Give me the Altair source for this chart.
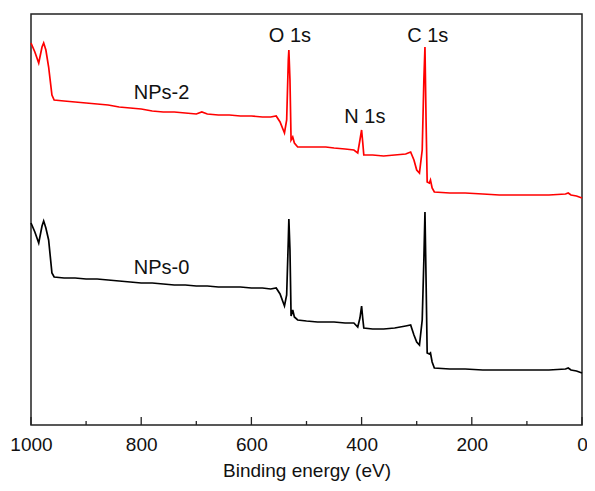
import altair as alt
import pandas as pd

# Binding energy grid (eV)
energy_ev = [1000, 993, 986, 980, 977, 973, 968, 962, 958, 940, 920, 900, 880, 860,
             840, 820, 800, 780, 760, 740, 720, 700, 690, 680, 660, 640, 620, 600,
             580, 565, 555, 548, 540, 536, 533, 532, 530, 528, 525, 522, 516, 500,
             480, 465, 450, 430, 414, 407, 403, 400, 398, 396, 380, 360, 340, 320,
             311, 305, 300, 295, 290, 287, 285, 283, 281, 277, 275, 272, 268, 240,
             212, 180, 150, 120, 90, 60, 30, 25, 20, 10, 0]

# Intensities (arbitrary units, offset stacked)
nps2_intensity = [382, 373, 362, 378, 382, 375, 358, 330, 325, 324, 323, 322, 321, 320,
                  318, 317, 316, 314, 313, 313, 312, 311, 313, 311, 310, 310, 309, 309,
                  308, 308, 309, 303, 292, 305, 365, 375, 345, 285, 288, 282, 278, 278,
                  278, 278, 277, 276, 275, 272, 285, 295, 283, 270, 270, 269, 270, 271,
                  273, 265, 255, 252, 275, 345, 378, 305, 243, 242, 245, 237, 233, 232,
                  232, 231, 230, 230, 230, 230, 231, 232, 230, 229, 227]

nps0_intensity = [202, 193, 182, 199, 204, 197, 185, 152, 148, 147, 147, 146, 146, 145,
                  144, 143, 142, 142, 141, 140, 140, 139, 139, 139, 138, 138, 138, 137,
                  137, 136, 137, 131, 119, 130, 185, 206, 175, 109, 115, 108, 105, 104,
                  103, 103, 103, 102, 102, 98, 107, 119, 107, 97, 96, 96, 97, 99,
                  100, 90, 83, 80, 105, 165, 213, 145, 72, 71, 72, 63, 57, 56,
                  56, 55, 55, 55, 55, 55, 56, 57, 55, 54, 52]

series_names = ["NPs-2", "NPs-0"]
series_colors = ["#ff0000", "#000000"]

label_texts = ["O 1s", "N 1s", "C 1s", "NPs-2", "NPs-0"]
label_ev = [530, 394, 280, 763, 763]
label_intensity = [389, 308, 389, 332, 157]

major_ticks = [1000, 800, 600, 400, 200, 0]
minor_ticks = [900, 700, 500, 300, 100]

W, H = 551, 411
FONT = "Liberation Sans"

rows = []
for e, a, b in zip(energy_ev, nps2_intensity, nps0_intensity):
    rows.append({"energy": e, "intensity": a, "series": "NPs-2"})
    rows.append({"energy": e, "intensity": b, "series": "NPs-0"})
df = pd.DataFrame(rows)

x_scale = alt.Scale(domain=[0, 1000], reverse=True, nice=False)
y_scale = alt.Scale(domain=[0, 411], nice=False, zero=False)

lines = alt.Chart(df).mark_line(strokeWidth=1.7).encode(
    x=alt.X("energy:Q", scale=x_scale,
            axis=alt.Axis(values=major_ticks, format="d", title="Binding energy (eV)",
                          ticks=False, domain=False, grid=False, labelPadding=10,
                          titlePadding=7, labelFontSize=19, titleFontSize=19,
                          labelFont=FONT, titleFont=FONT, labelColor="#111",
                          titleColor="#111", titleFontWeight="normal",
                          labelFlush=False)),
    y=alt.Y("intensity:Q", scale=y_scale, axis=None),
    color=alt.Color("series:N", scale=alt.Scale(domain=series_names, range=series_colors),
                    legend=None),
)

major = alt.Chart(pd.DataFrame({"energy": major_ticks})).mark_rule(
    color="#222", strokeWidth=1.3).encode(
    x=alt.X("energy:Q", scale=x_scale),
    y=alt.value(H), y2=alt.value(H - 8))

minor = alt.Chart(pd.DataFrame({"energy": minor_ticks})).mark_rule(
    color="#222", strokeWidth=1.3).encode(
    x=alt.X("energy:Q", scale=x_scale),
    y=alt.value(H), y2=alt.value(H - 4))

labels = alt.Chart(pd.DataFrame({"energy": label_ev, "intensity": label_intensity,
                                 "text": label_texts})).mark_text(
    font=FONT, fontSize=20, color="#111", align="center", baseline="middle").encode(
    x=alt.X("energy:Q", scale=x_scale),
    y=alt.Y("intensity:Q", scale=y_scale),
    text="text:N")

chart = alt.layer(lines, major, minor, labels).properties(
    width=W, height=H,
    padding={"left": 23, "top": 6, "right": 5, "bottom": 57},
    autosize="none",
).configure_view(stroke="#222", strokeWidth=1.5)

chart.save("out.html", embed_options={"renderer": "svg", "actions": False})
